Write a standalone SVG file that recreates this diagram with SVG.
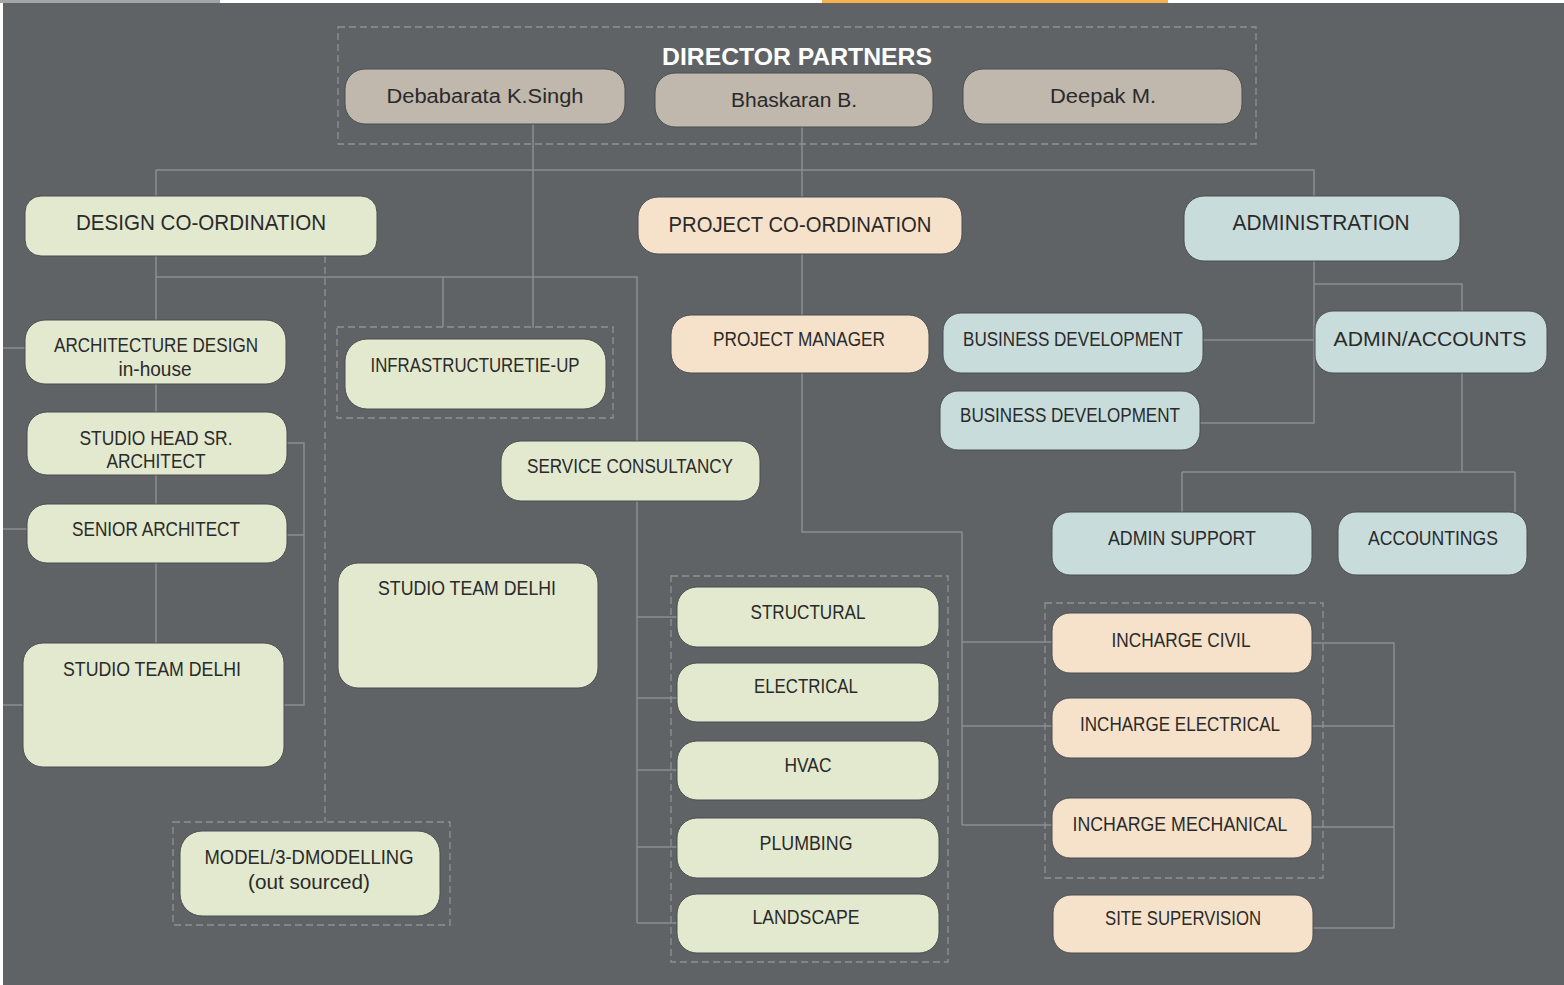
<svg xmlns="http://www.w3.org/2000/svg" width="1564" height="985" viewBox="0 0 1564 985">
<style>
.bg{fill:#5f6366}
.ln{fill:none;stroke:#8b8f92;stroke-width:1.5}
.ds{fill:none;stroke:#8e9295;stroke-width:1.3;stroke-dasharray:7 4}
.g{fill:#e2e9cf;stroke:#4b4f52;stroke-width:1}
.p{fill:#f6e2cb;stroke:#4b4f52;stroke-width:1}
.b{fill:#c8dcdc;stroke:#4b4f52;stroke-width:1}
.d{fill:#c0b7ad;stroke:#4b4f52;stroke-width:1}
text{font-family:"Liberation Sans",Arial,sans-serif;font-size:20px;fill:#2a2a2a;text-anchor:middle}
.l2{font-size:22px}
.tt{font-size:24px;font-weight:bold;fill:#ffffff}
</style>
<rect x="0" y="0" width="1564" height="985" fill="#ffffff"/>
<rect x="0" y="0" width="220" height="3" fill="#a5a5a5"/>
<rect x="822" y="0" width="346" height="3" fill="#f7b24f"/>
<rect class="bg" x="3" y="3" width="1561" height="982"/>

<g id="connectors">
<!-- top distribution -->
<path class="ln" d="M533 124V328M802 127V315M802 373V532H962V825M156 170H1314V196M156 170V643M156 277H637V923M443 277V327"/>
<path class="ds" d="M325 256V822"/>
<!-- left stubs -->
<path class="ln" d="M3 348H26M3 529H28M3 705H23"/>
<!-- left column right bracket -->
<path class="ln" d="M287 443H304V705H283M287 535H304"/>
<!-- consultancy stubs -->
<path class="ln" d="M637 617H678M637 698H678M637 770H678M637 847H678M637 923H678"/>
<!-- incharge stubs -->
<path class="ln" d="M962 642H1052M962 726H1052M962 825H1052"/>
<path class="ln" d="M1312 643H1394V928H1313M1312 726H1394M1312 827H1394"/>
<!-- administration -->
<path class="ln" d="M1314 261V423H1200M1203 340H1314M1314 284H1462V311M1462 373V472M1182 472H1515M1182 472V512M1515 472V512"/>
<!-- dashed group boxes -->
<rect class="ds" x="338" y="27" width="918" height="117"/>
<rect class="ds" x="337" y="327" width="276" height="91"/>
<rect class="ds" x="671" y="576" width="277" height="386"/>
<rect class="ds" x="1045" y="603" width="278" height="275"/>
<rect class="ds" x="173" y="822" width="277" height="103"/>
</g>

<g id="director-partners">
<text class="tt" x="797" y="65" textLength="270" lengthAdjust="spacingAndGlyphs">DIRECTOR PARTNERS</text>
</g>
<g id="debabarata">
<rect class="d" x="345" y="69" width="280" height="55" rx="20"/>
<text x="485" y="103" font-size="22" textLength="197" lengthAdjust="spacingAndGlyphs">Debabarata K.Singh</text>
</g>
<g id="bhaskaran">
<rect class="d" x="655" y="73" width="278" height="54" rx="20"/>
<text x="794" y="107" font-size="22" textLength="126" lengthAdjust="spacingAndGlyphs">Bhaskaran B.</text>
</g>
<g id="deepak">
<rect class="d" x="963" y="69" width="279" height="55" rx="20"/>
<text x="1103" y="103" font-size="22" textLength="106" lengthAdjust="spacingAndGlyphs">Deepak M.</text>
</g>

<g id="design-coordination">
<rect class="g" x="25" y="196" width="352" height="60" rx="16"/>
<text class="l2" x="201" y="230" textLength="250" lengthAdjust="spacingAndGlyphs">DESIGN CO-ORDINATION</text>
</g>
<g id="project-coordination">
<rect class="p" x="638" y="197" width="324" height="57" rx="20"/>
<text class="l2" x="800" y="232" textLength="263" lengthAdjust="spacingAndGlyphs">PROJECT CO-ORDINATION</text>
</g>
<g id="administration">
<rect class="b" x="1184" y="196" width="276" height="65" rx="20"/>
<text class="l2" x="1321" y="230" textLength="177" lengthAdjust="spacingAndGlyphs">ADMINISTRATION</text>
</g>

<g id="architecture-design">
<rect class="g" x="25" y="320" width="261" height="64" rx="20"/>
<text x="156" y="352" font-size="19" textLength="204" lengthAdjust="spacingAndGlyphs">ARCHITECTURE DESIGN</text>
<text x="155" y="376" font-size="19" textLength="73" lengthAdjust="spacingAndGlyphs">in-house</text>
</g>
<g id="studio-head">
<rect class="g" x="27" y="412" width="260" height="63" rx="20"/>
<text x="156" y="445" font-size="19" textLength="153" lengthAdjust="spacingAndGlyphs">STUDIO HEAD SR.</text>
<text x="156" y="468" font-size="19" textLength="99" lengthAdjust="spacingAndGlyphs">ARCHITECT</text>
</g>
<g id="senior-architect">
<rect class="g" x="27" y="504" width="260" height="59" rx="20"/>
<text x="156" y="536" font-size="19" textLength="168" lengthAdjust="spacingAndGlyphs">SENIOR ARCHITECT</text>
</g>
<g id="studio-team-delhi-left">
<rect class="g" x="23" y="643" width="261" height="124" rx="20"/>
<text x="152" y="676" font-size="19" textLength="178" lengthAdjust="spacingAndGlyphs">STUDIO TEAM DELHI</text>
</g>
<g id="model-3d">
<rect class="g" x="180" y="831" width="260" height="85" rx="22"/>
<text x="309" y="864" font-size="19" textLength="209" lengthAdjust="spacingAndGlyphs">MODEL/3-DMODELLING</text>
<text x="309" y="889" font-size="20" textLength="122" lengthAdjust="spacingAndGlyphs">(out sourced)</text>
</g>

<g id="infrastructure">
<rect class="g" x="345" y="339" width="261" height="70" rx="22"/>
<text x="475" y="372" font-size="19" textLength="209" lengthAdjust="spacingAndGlyphs">INFRASTRUCTURETIE-UP</text>
</g>
<g id="studio-team-delhi-mid">
<rect class="g" x="338" y="563" width="260" height="125" rx="20"/>
<text x="467" y="595" font-size="19" textLength="178" lengthAdjust="spacingAndGlyphs">STUDIO TEAM DELHI</text>
</g>
<g id="service-consultancy">
<rect class="g" x="501" y="441" width="259" height="60" rx="20"/>
<text x="630" y="473" font-size="19" textLength="206" lengthAdjust="spacingAndGlyphs">SERVICE CONSULTANCY</text>
</g>

<g id="structural">
<rect class="g" x="677" y="587" width="262" height="60" rx="20"/>
<text x="808" y="619" font-size="19" textLength="115" lengthAdjust="spacingAndGlyphs">STRUCTURAL</text>
</g>
<g id="electrical">
<rect class="g" x="677" y="663" width="262" height="59" rx="20"/>
<text x="806" y="693" font-size="19" textLength="104" lengthAdjust="spacingAndGlyphs">ELECTRICAL</text>
</g>
<g id="hvac">
<rect class="g" x="677" y="741" width="262" height="59" rx="20"/>
<text x="808" y="772" font-size="19" textLength="47" lengthAdjust="spacingAndGlyphs">HVAC</text>
</g>
<g id="plumbing">
<rect class="g" x="677" y="818" width="262" height="60" rx="20"/>
<text x="806" y="850" font-size="19" textLength="93" lengthAdjust="spacingAndGlyphs">PLUMBING</text>
</g>
<g id="landscape">
<rect class="g" x="677" y="894" width="262" height="59" rx="20"/>
<text x="806" y="924" font-size="19" textLength="107" lengthAdjust="spacingAndGlyphs">LANDSCAPE</text>
</g>

<g id="project-manager">
<rect class="p" x="671" y="315" width="258" height="58" rx="20"/>
<text x="799" y="346" font-size="19" textLength="172" lengthAdjust="spacingAndGlyphs">PROJECT MANAGER</text>
</g>
<g id="business-development-1">
<rect class="b" x="943" y="313" width="260" height="60" rx="18"/>
<text x="1073" y="346" font-size="19" textLength="220" lengthAdjust="spacingAndGlyphs">BUSINESS DEVELOPMENT</text>
</g>
<g id="business-development-2">
<rect class="b" x="940" y="391" width="260" height="59" rx="18"/>
<text x="1070" y="422" font-size="19" textLength="220" lengthAdjust="spacingAndGlyphs">BUSINESS DEVELOPMENT</text>
</g>
<g id="admin-accounts">
<rect class="b" x="1315" y="311" width="232" height="62" rx="18"/>
<text x="1430" y="346" font-size="23" textLength="193" lengthAdjust="spacingAndGlyphs">ADMIN/ACCOUNTS</text>
</g>
<g id="admin-support">
<rect class="b" x="1052" y="512" width="260" height="63" rx="18"/>
<text x="1182" y="545" font-size="19" textLength="148" lengthAdjust="spacingAndGlyphs">ADMIN SUPPORT</text>
</g>
<g id="accountings">
<rect class="b" x="1338" y="512" width="189" height="63" rx="18"/>
<text x="1433" y="545" font-size="19" textLength="130" lengthAdjust="spacingAndGlyphs">ACCOUNTINGS</text>
</g>

<g id="incharge-civil">
<rect class="p" x="1052" y="613" width="260" height="60" rx="18"/>
<text x="1181" y="647" font-size="19" textLength="139" lengthAdjust="spacingAndGlyphs">INCHARGE CIVIL</text>
</g>
<g id="incharge-electrical">
<rect class="p" x="1052" y="698" width="260" height="60" rx="18"/>
<text x="1180" y="731" font-size="19" textLength="200" lengthAdjust="spacingAndGlyphs">INCHARGE ELECTRICAL</text>
</g>
<g id="incharge-mechanical">
<rect class="p" x="1052" y="798" width="260" height="60" rx="18"/>
<text x="1180" y="831" font-size="19" textLength="215" lengthAdjust="spacingAndGlyphs">INCHARGE MECHANICAL</text>
</g>
<g id="site-supervision">
<rect class="p" x="1053" y="895" width="260" height="58" rx="18"/>
<text x="1183" y="925" font-size="19" textLength="156" lengthAdjust="spacingAndGlyphs">SITE SUPERVISION</text>
</g>
</svg>
